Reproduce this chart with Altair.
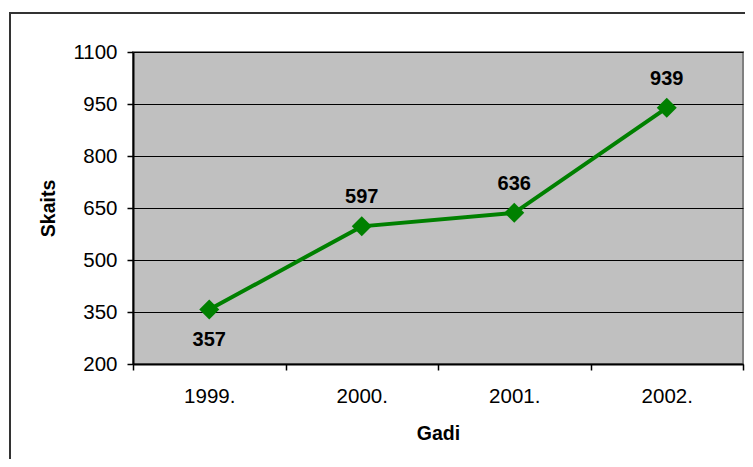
import altair as alt
import pandas as pd

years = ["1999.", "2000.", "2001.", "2002."]
values = [357, 597, 636, 939]
label_side = ["below", "above", "above", "above"]
y_ticks = [200, 350, 500, 650, 800, 950, 1100]

df = pd.DataFrame({"year": years, "value": values, "side": label_side})

FONT = "Liberation Sans"

x_enc = alt.X(
    "year:N",
    sort=years,
    scale=alt.Scale(paddingInner=0, paddingOuter=0),
    axis=alt.Axis(
        title="Gadi",
        labelAngle=0,
        tickBand="extent",
        grid=False,
        domainColor="#000000",
        domainWidth=2,
        tickColor="#000000",
        tickWidth=1.5,
        tickSize=6,
        labelFont=FONT,
        labelFontSize=20.5,
        labelColor="#000000",
        labelPadding=16,
        titleFont=FONT,
        titleFontSize=19.5,
        titleFontWeight="bold",
        titleColor="#000000",
        titlePadding=18,
    ),
)
y_enc = alt.Y(
    "value:Q",
    scale=alt.Scale(domain=[200, 1100], nice=False, zero=False),
    axis=alt.Axis(
        title="Skaits",
        values=y_ticks,
        format="d",
        grid=True,
        gridColor="#000000",
        gridWidth=1,
        domainColor="#000000",
        domainWidth=2,
        tickColor="#000000",
        tickWidth=1.5,
        tickSize=6,
        labelFont=FONT,
        labelFontSize=20.5,
        labelColor="#000000",
        labelPadding=10,
        titleFont=FONT,
        titleFontSize=19.5,
        titleFontWeight="bold",
        titleColor="#000000",
        titlePadding=14,
    ),
)

base = alt.Chart(df)

frame = alt.Chart(alt.Data(values=[{}])).mark_rect(
    fill=None, stroke="#333333", strokeWidth=2
).encode(
    x=alt.value(-123), x2=alt.value(700),
    y=alt.value(-39), y2=alt.value(500),
)

line = base.mark_line(color="#008000", strokeWidth=4).encode(x=x_enc, y=y_enc)
points = base.mark_point(
    shape="diamond", filled=True, color="#008000", size=400, opacity=1
).encode(x="year:N", y="value:Q")

above = base.transform_filter(alt.datum.side == "above").mark_text(
    font=FONT, fontSize=20, fontWeight="bold", color="#000000",
    baseline="middle", dy=-29
).encode(x="year:N", y="value:Q", text="value:Q")
below = base.transform_filter(alt.datum.side == "below").mark_text(
    font=FONT, fontSize=20, fontWeight="bold", color="#000000",
    baseline="middle", dy=30
).encode(x="year:N", y="value:Q", text="value:Q")

chart = alt.layer(frame, line, points, above, below).properties(
    width=610,
    height=312,
    autosize=alt.AutoSizeParams(type="none"),
    padding={"left": 125, "top": 44, "right": 2, "bottom": 95},
).configure_view(
    fill="#C0C0C0", stroke="#808080", strokeWidth=2
)

chart.save("out.html", embed_options={"renderer": "svg", "actions": False})
